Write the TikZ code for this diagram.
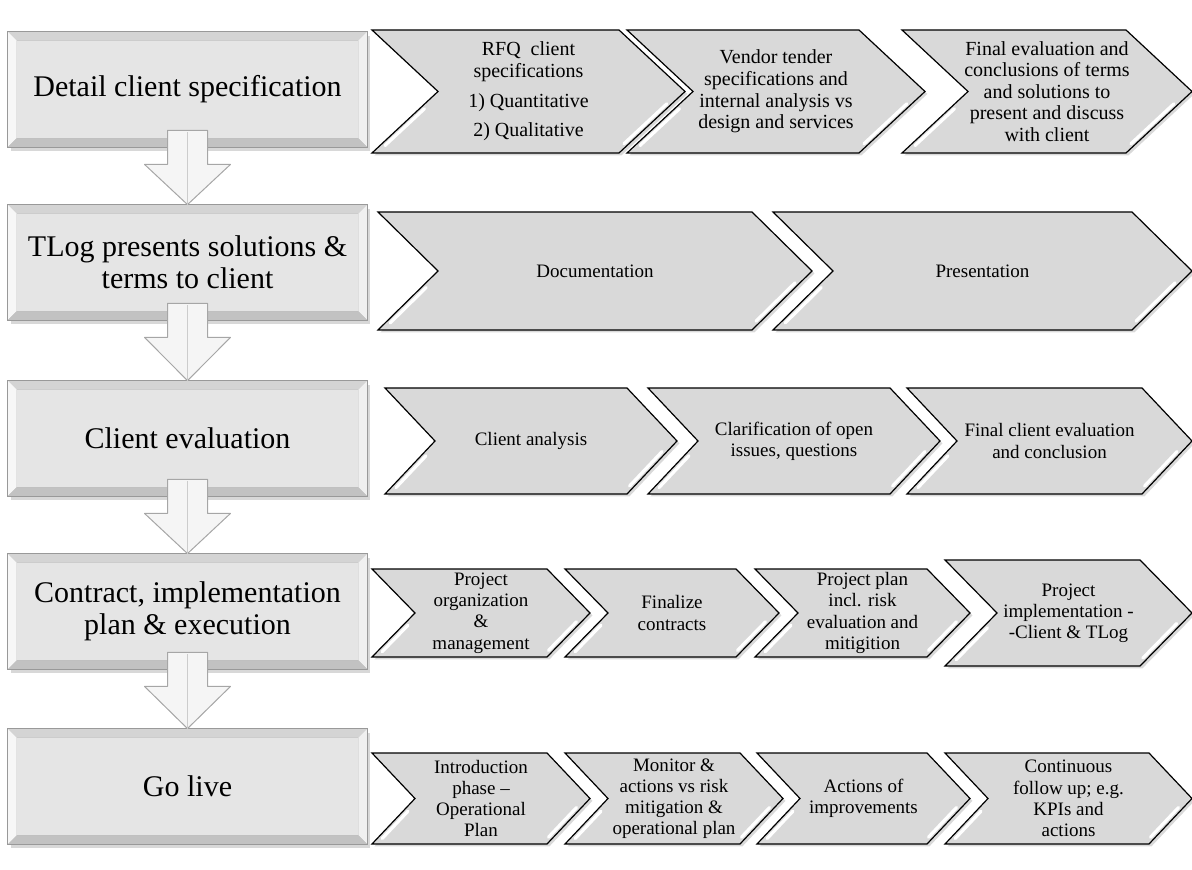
\documentclass[tikz,border=0pt]{standalone}
\usepackage{fontspec}
\setmainfont{Liberation Serif}
\usetikzlibrary{calc,backgrounds,shadows}
\tikzset{
  stage/.style={minimum width=179.5pt,minimum height=57.5pt,inner sep=0pt,
    align=center,font=\fontsize{15}{16}\selectfont},
  steptext/.style={align=center,inner sep=0pt,font=\fontsize{9.5}{10.6}\selectfont},
  bigstep/.style={steptext,font=\fontsize{10}{10.8}\selectfont},
  chevron/.style={draw=black,line width=0.6pt,fill=black!15,
    drop shadow={shadow xshift=1.2pt,shadow yshift=-1.2pt,opacity=0.3}},
  shine/.style={white,line width=1.6pt,line cap=round},
  downarrow/.style={draw=black!35,fill=black!4,line width=0.5pt,line join=round}
}
% name, x, y, width, height, depth, text
\newcommand{\chev}[8][steptext]{%
  \draw[chevron] (#3,#4) -- ++(#5-#7,0) -- ++(#7,#6/2) -- ++(-#7,#6/2)
    -- ++(-#5+#7,0) -- ++(#7,-#6/2) -- cycle;
  \draw[shine] (#3+0.72*#7+5,#4+0.64*#6) -- (#3+0.12*#7+5,#4+0.94*#6);
  \draw[shine] (#3+#5-0.2*#7-5,#4+0.6*#6) -- (#3+#5-0.85*#7-5,#4+0.925*#6);
  \node[#1] (#2) at (#3+#5/2,#4+#6/2) {#8};
}
\begin{document}
\begin{tikzpicture}[x=0.5pt,y=-0.5pt]
  \useasboundingbox (0,0) rectangle (1192,870);
  \node[stage] (b1) at (187.5,89.5) {Detail client specification};
  \node[stage] (b2) at (187.5,262.5) {TLog presents solutions \&\\ terms to client};
  \node[stage] (b3) at (187.5,438.5) {Client evaluation};
  \node[stage] (b4) at (187.5,611.5) {Contract, implementation\\ plan \& execution};
  \node[stage] (b5) at (187.5,786.5) {Go live};
  \begin{scope}[on background layer]
    \foreach \bx in {b1,b2,b3,b4,b5}{
      \fill[black!30,opacity=0.5] ($(\bx.north west)+(3,4)$) rectangle ($(\bx.south east)+(3,4)$);
      \fill[black!25] (\bx.north west) rectangle (\bx.south east);
      \fill[black!17] (\bx.north west) -- (\bx.north east) -- ($(\bx.north east)+(-9,9)$)
        -- ($(\bx.north west)+(9,9)$) -- cycle;
      \fill[black!3] (\bx.north west) -- ($(\bx.north west)+(9,9)$)
        -- ($(\bx.south west)+(9,-9)$) -- (\bx.south west) -- cycle;
      \fill[black!6] (\bx.north east) -- ($(\bx.north east)+(-9,9)$)
        -- ($(\bx.south east)+(-9,-9)$) -- (\bx.south east) -- cycle;
      \fill[black!24] (\bx.south west) -- ($(\bx.south west)+(9,-9)$)
        -- ($(\bx.south east)+(-9,-9)$) -- (\bx.south east) -- cycle;
      \fill[black!10] ($(\bx.north west)+(9,9)$) rectangle ($(\bx.south east)+(-9,-9)$);
      \draw[black!40,line width=0.6pt] (\bx.north west) rectangle (\bx.south east);
    }
  \end{scope}
  \foreach \ta/\tb in {b1/b2,b2/b3,b3/b4,b4/b5}{
    \draw[downarrow] ($(\ta.south)+(-20,-17)$) -- ($(\ta.south)+(-20,17)$)
      -- ($(\ta.south)+(-43,17)$) -- (\tb.north) -- ($(\ta.south)+(43,17)$)
      -- ($(\ta.south)+(20,17)$) -- ($(\ta.south)+(20,-17)$) -- cycle;
    \draw[black!20,line width=0.8pt] ($(\ta.south)+(0,-15)$) -- ($(\ta.south)+(0,17)$) -- (\tb.north);
  }
  \chev[bigstep]{s11}{372}{30}{313}{123}{66}{RFQ\ \ client\\ specifications\\[4pt] 1) Quantitative\\[4pt] 2) Qualitative}
  \chev[bigstep]{s12}{627}{30}{298}{123}{66}{Vendor tender\\ specifications and\\ internal analysis vs\\ design and services}
  \chev[bigstep]{s13}{902}{30}{290}{123}{66}{Final evaluation and\\ conclusions of terms\\ and solutions to\\ present and discuss\\ with client}
  \chev{s21}{378}{212}{434}{118}{60}{Documentation}
  \chev{s22}{773}{212}{419}{118}{60}{Presentation}
  \chev{s31}{385}{388}{292}{106}{50}{Client analysis}
  \chev{s32}{648}{388}{292}{106}{50}{Clarification of open\\ issues, questions}
  \chev{s33}{907}{388}{285}{106}{50}{Final client evaluation\\ and conclusion}
  \chev{s41}{372}{569}{218}{88}{43}{Project\\ organization\\ \&\\ management}
  \chev{s42}{565}{569}{214}{88}{43}{Finalize\\ contracts}
  \chev{s43}{755}{569}{215}{88}{43}{Project plan\\ incl. risk\\ evaluation and\\ mitigition}
  \chev{s44}{945}{560}{247}{106}{52}{Project\\ implementation -\\ -Client \& TLog}
  \chev{s51}{372}{753}{218}{91}{43}{Introduction\\ phase --\\ Operational\\ Plan}
  \chev{s52}{565}{753}{218}{91}{43}{Monitor \&\\ actions vs risk\\ mitigation \&\\ operational plan}
  \chev{s53}{757}{753}{213}{91}{43}{Actions of\\ improvements}
  \chev{s54}{945}{753}{247}{91}{43}{Continuous\\ follow up; e.g.\\ KPIs and\\ actions}
\end{tikzpicture}
\end{document}
